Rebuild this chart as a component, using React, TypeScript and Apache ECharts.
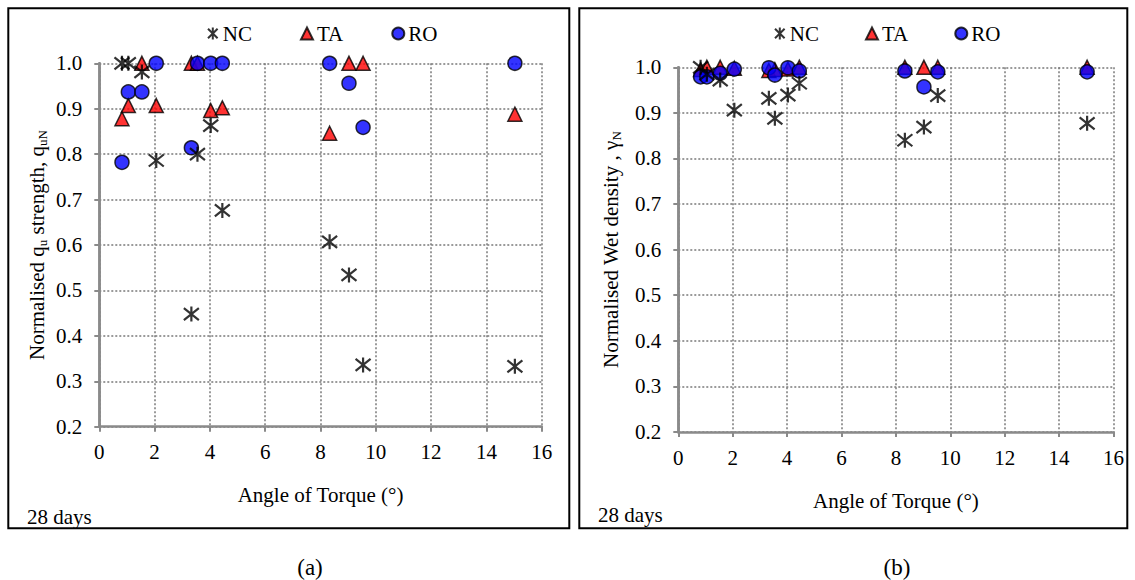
import React, { useEffect, useRef } from 'react';
import * as echarts from 'echarts';

// Angle of torque (degrees)
const angles = [0.82, 1.05, 1.54, 2.06, 3.33, 3.55, 4.03, 4.45, 8.33, 9.03, 9.54, 15.03];
// (a) Normalised qu strength
const quNC = [1.0, 1.0, 0.981, 0.786, 0.448, 0.8, 0.863, 0.676, 0.607, 0.534, 0.336, 0.333];
const quTA = [0.878, 0.907, 1.0, 0.907, 1.0, 1.0, 0.896, 0.902, 0.846, 1.0, 1.0, 0.888];
const quRO = [0.782, 0.937, 0.937, 1.0, 0.814, 1.0, 1.0, 1.0, 1.0, 0.956, 0.859, 1.0];
// (b) Normalised wet density
const wdNC = [1.0, 0.985, 0.972, 0.906, 0.932, 0.888, 0.939, 0.965, 0.84, 0.869, 0.938, 0.877];
const wdTA = [0.995, 1.0, 1.0, 0.998, 0.993, 0.995, 0.996, 1.0, 1.0, 1.0, 1.0, 1.0];
const wdRO = [0.979, 0.979, 0.987, 0.996, 0.999, 0.983, 0.999, 0.992, 0.992, 0.957, 0.99, 0.99];

const xTicks = [0, 2, 4, 6, 8, 10, 12, 14, 16];
const yTicks = [0.2, 0.3, 0.4, 0.5, 0.6, 0.7, 0.8, 0.9, 1.0];
const seriesNames = ['NC', 'TA', 'RO'];
const subtitle = '28 days';
const captions = ['(a)', '(b)'];

const FONT = "'Liberation Serif', 'Times New Roman', Times, serif";
const GRAY = '#8a8a8a';
const STAR = 'path://M1,1L9,9M9,1L1,9M5,0L5,10';

const zip = (xs: number[], ys: number[]) => xs.map((x, i) => [x, ys[i]]);

export default function App() {
  const ref = useRef<HTMLDivElement>(null);
  useEffect(() => {
    if (!ref.current) return;
    const chart = echarts.init(ref.current, undefined, { renderer: 'svg' });

    const xAxisBase = (gridIndex: number) => ({
      type: 'value',
      gridIndex,
      min: xTicks[0],
      max: xTicks[xTicks.length - 1],
      interval: 2,
      name: 'Angle of Torque (°)',
      nameLocation: 'middle',
      nameGap: 58,
      nameTextStyle: { fontFamily: FONT, fontSize: 21, color: '#000' },
      axisLine: { show: true, onZero: false, lineStyle: { color: GRAY, width: 2.5 } },
      axisTick: { show: true, inside: false, length: 5, lineStyle: { color: GRAY, width: 2 } },
      axisLabel: { fontFamily: FONT, fontSize: 21, color: '#000', margin: 15 },
      splitLine: { show: true, lineStyle: { color: '#7a7a7a', width: 1.5, type: [2, 2] } },
    });
    const yAxisBase = (gridIndex: number, name: string, gap: number) => ({
      type: 'value',
      gridIndex,
      min: yTicks[0],
      max: yTicks[yTicks.length - 1],
      interval: 0.1,
      name,
      nameLocation: 'middle',
      nameGap: gap,
      nameTextStyle: {
        fontFamily: FONT,
        fontSize: 21,
        color: '#000',
        lineHeight: 24,
        rich: {
          s: { fontFamily: FONT, fontSize: 13, lineHeight: 10, verticalAlign: 'bottom', color: '#000' },
        },
      },
      axisLine: { show: true, onZero: false, lineStyle: { color: GRAY, width: 2.5 } },
      axisTick: { show: true, inside: false, length: 5, lineStyle: { color: GRAY, width: 2 } },
      axisLabel: {
        fontFamily: FONT,
        fontSize: 21,
        color: '#000',
        margin: 17,
        formatter: (v: number) => v.toFixed(1),
      },
      splitLine: { show: true, lineStyle: { color: '#7a7a7a', width: 1.5, type: [2, 2] } },
    });
    const rightBorder = (gridIndex: number) => ({
      type: 'value',
      gridIndex,
      position: 'right',
      min: yTicks[0],
      max: yTicks[yTicks.length - 1],
      interval: 0.1,
      axisLine: { show: true, lineStyle: { color: GRAY, width: 2.5 } },
      axisTick: { show: false },
      axisLabel: { show: false },
      splitLine: { show: false },
    });

    const mk = (name: string, data: number[][], xi: number, yi: number) => {
      if (name === 'NC') {
        return {
          name,
          type: 'scatter',
          xAxisIndex: xi,
          yAxisIndex: yi,
          data,
          symbol: STAR,
          symbolSize: 15,
          z: 4,
          itemStyle: { color: 'rgba(0,0,0,0)', borderColor: '#000', borderWidth: 2.2 },
        };
      }
      if (name === 'TA') {
        return {
          name,
          type: 'scatter',
          xAxisIndex: xi,
          yAxisIndex: yi,
          data,
          symbol: 'triangle',
          symbolSize: 14,
          z: 2,
          itemStyle: { color: '#ff0000', borderColor: '#000', borderWidth: 1.5 },
        };
      }
      return {
        name,
        type: 'scatter',
        xAxisIndex: xi,
        yAxisIndex: yi,
        data,
        symbol: 'circle',
        symbolSize: 14,
        z: 3,
        itemStyle: { color: '#0000ff', borderColor: '#000', borderWidth: 1.5 },
      };
    };

    const legendBase = (left: number, gap: number) => ({
      left,
      top: 18,
      orient: 'horizontal',
      data: seriesNames,
      itemWidth: 12,
      itemHeight: 12,
      itemGap: gap,
      textStyle: { fontFamily: FONT, fontSize: 21, color: '#000', padding: [0, 0, 0, -1] },
      selectedMode: false,
    });

    const txt = (x: number, y: number, text: string, size: number, align: string) => ({
      type: 'text',
      x,
      y,
      style: {
        text,
        fontFamily: FONT,
        fontSize: size,
        fill: '#000',
        textAlign: align,
        textVerticalAlign: 'middle',
      },
    });

    chart.setOption({
      animation: false,
      textStyle: { fontFamily: FONT },
      grid: [
        { left: 99.3, top: 63.3, width: 442.4, height: 363.4 },
        { left: 678.3, top: 67.3, width: 435.2, height: 364.7 },
      ],
      legend: [legendBase(202, 48), legendBase(769, 46)],
      xAxis: [xAxisBase(0), xAxisBase(1)],
      yAxis: [
        yAxisBase(0, 'Normalised q{s|u} strength, q{s|uN}', 50),
        yAxisBase(1, 'Normalised Wet density , γ{s|N}', 55),
        rightBorder(0),
        rightBorder(1),
      ],
      series: [
        mk('TA', zip(angles, quTA), 0, 0),
        mk('RO', zip(angles, quRO), 0, 0),
        mk('NC', zip(angles, quNC), 0, 0),
        mk('TA', zip(angles, wdTA), 1, 1),
        mk('RO', zip(angles, wdRO), 1, 1),
        mk('NC', zip(angles, wdNC), 1, 1),
      ],
      graphic: [
        {
          type: 'rect',
          shape: { x: 8.3, y: 8.3, width: 561, height: 520 },
          style: { fill: 'none', stroke: '#000', lineWidth: 2 },
          silent: true,
        },
        {
          type: 'rect',
          shape: { x: 579.3, y: 8.3, width: 548, height: 520 },
          style: { fill: 'none', stroke: '#000', lineWidth: 2 },
          silent: true,
        },
        txt(27, 517, subtitle, 21, 'left'),
        txt(598, 515, subtitle, 21, 'left'),
        txt(310, 567, captions[0], 23, 'center'),
        txt(897, 567, captions[1], 23, 'center'),
      ],
    });
    return () => chart.dispose();
  }, []);
  return (
    <div
      ref={ref}
      style={{ position: 'absolute', left: 0, top: 0, width: 1135, height: 580, background: '#fff' }}
    />
  );
}
